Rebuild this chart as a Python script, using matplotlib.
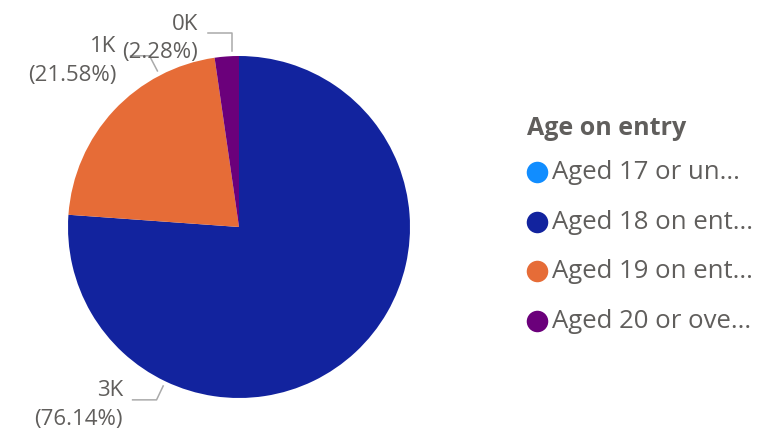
import numpy as np
import matplotlib.pyplot as plt
from matplotlib.lines import Line2D

# Age on entry shares (percent) and rounded counts shown in labels
categories = ['Aged 17 or un...', 'Aged 18 on ent...', 'Aged 19 on ent...', 'Aged 20 or ove...']
shares = [0.0, 76.14, 21.58, 2.28]
count_labels = ['0K', '3K', '1K', '0K']
colors = ['#118DFF', '#12239E', '#E66C37', '#6B007B']

text_color = '#605E5C'
line_color = '#AAAAAA'
plt.rcParams['font.family'] = ['Open Sans', 'DejaVu Sans']

W, H = 782, 435
fig = plt.figure(figsize=(W / 100, H / 100), dpi=100)

# pie axes: centre (239, 228) px, radius 171 px
cx, cy, r = 239, 228, 171
ax = fig.add_axes([(cx - r) / W, (H - cy - r) / H, 2 * r / W, 2 * r / H])
wedges, _ = ax.pie(shares, colors=colors, startangle=90, counterclock=False,
                   radius=1, wedgeprops=dict(linewidth=0))
ax.set_xlim(-1, 1)
ax.set_ylim(-1, 1)
ax.set_aspect('equal')
ax.axis('off')

# leader lines: (angle on the edge in degrees, elbow radius, horizontal run, text dx) per labelled slice
label_layout = {1: (-115.5, 1.12, 0.14, -7), 2: (117.6, 1.13, 0.11, -10), 3: (92.3, 1.135, 0.14, -7)}
for i, (ang, r_elbow, run, dx) in label_layout.items():
    if shares[i] <= 0:
        continue
    a = np.radians(ang)
    x0, y0 = 1.03 * np.cos(a), 1.03 * np.sin(a)
    x1, y1 = r_elbow * np.cos(a), r_elbow * np.sin(a)
    if i == 3:
        x1 = x0
    x2 = x1 - run
    ax.plot([x0, x1, x2], [y0, y1, y1], color=line_color, lw=1.1, clip_on=False)
    ax.annotate(f'{count_labels[i]}\n({shares[i]:.2f}%)', xy=(x2, y1), xytext=(dx, -3),
                textcoords='offset points', ha='right', va='center', multialignment='right',
                fontsize=16, color=text_color, linespacing=1.45, annotation_clip=False)

# legend
fig.text(527 / W, 1 - 129 / H, 'Age on entry', fontsize=18, fontweight='bold',
         color=text_color, ha='left', va='center')
for i, (cat, col) in enumerate(zip(categories, colors)):
    y = 1 - (173 + i * 49.5) / H
    fig.add_artist(Line2D([537 / W], [y], marker='o', markersize=15.5, color=col,
                          markeredgewidth=0, linestyle='none', transform=fig.transFigure))
    fig.text(552 / W, y, cat, fontsize=18.5, color=text_color, ha='left', va='center')

plt.savefig('out.png', dpi=100)
